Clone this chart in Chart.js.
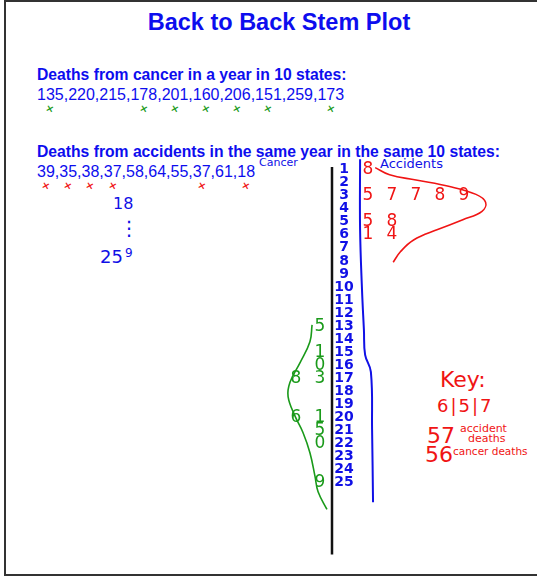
<!DOCTYPE html>
<html>
<head>
<meta charset="utf-8">
<script src="https://cdn.jsdelivr.net/npm/chart.js@4.4.0/dist/chart.umd.min.js"></script>
<style>
    html, body { margin: 0; padding: 0; background: #fff; }
    body { width: 537px; height: 577px; position: relative; overflow: hidden;
           font-family: "Liberation Sans", Arial, sans-serif; }
    #frame { position: absolute; left: 4px; top: 0; width: 600px; height: 576px;
             border: 2px solid #333; box-sizing: border-box; }
    #plot { position: absolute; left: 0; top: 0; width: 537px; height: 577px; }
    .txt { position: absolute; white-space: nowrap; line-height: 1; }
    .head { color: #0d0dee; font-weight: bold; font-size: 15.7px; left: 37px; }
    .vals { color: #0d0dee; font-size: 16px; left: 37px; }
    .vals span { display: inline-block; position: relative; }
    .vals span.ok::after { content: "\00d7"; position: absolute; left: 50%; top: 16px;
                           transform: translateX(-50%) rotate(15deg); font: bold 10px "DejaVu Sans"; }
    #cancerVals span.ok::after { color: #1a9a1a; }
    #accVals span.ok::after { color: #f01414; }
    .hand { font-family: "DejaVu Sans", sans-serif; }
    .blue { color: #1010e6; }
    .red { color: #f01414; }
</style>
</head>
<body>
<div id="frame"></div>
<div class="txt" style="left:0; width:558px; text-align:center; top:10.5px; font-size:23.5px; font-weight:bold; color:#0d0dee;">Back to Back Stem Plot</div>
<div class="txt head" style="top:67px;">Deaths from cancer in a year in 10 states:</div>
<div class="txt vals" id="cancerVals" style="top:86.5px;"></div>
<div class="txt head" style="top:144px;">Deaths from accidents in the same year in the same 10 states:</div>
<div class="txt vals" id="accVals" style="top:163.5px;"></div>

<div class="txt hand blue" style="left:259px; top:157px; font-size:11px;">Cancer</div>
<div class="txt hand blue" style="left:380px; top:157px; font-size:13px;">Accidents</div>

<div class="txt hand blue" style="left:113px; top:196px; font-size:16px;">18</div>
<div class="txt hand blue" style="left:119px; top:218px; font-size:20px;">&#8942;</div>
<div class="txt hand blue" style="left:100px; top:248px; font-size:18px;">25</div>
<div class="txt hand blue" style="left:125px; top:247px; font-size:12px;">9</div>

<div class="txt hand red" style="left:440px; top:369px; font-size:22px;">Key:</div>
<div class="txt hand red" style="left:437px; top:397px; font-size:18px; letter-spacing:2px;">6|5|7</div>
<div class="txt hand red" style="left:427px; top:425px; font-size:22px;">57</div>
<div class="txt hand red" style="left:460px; top:423px; font-size:11px;">accident</div>
<div class="txt hand red" style="left:468px; top:433px; font-size:11px;">deaths</div>
<div class="txt hand red" style="left:425px; top:444px; font-size:22px;">56</div>
<div class="txt hand red" style="left:453px; top:446px; font-size:10.5px;">cancer deaths</div>

<div id="plot"><canvas id="chart"></canvas></div>

<script>
// ─── Data ───
const cancerDeaths   = [135, 220, 215, 178, 201, 160, 206, 151, 259, 173];
const accidentDeaths = [39, 35, 38, 37, 58, 64, 55, 37, 61, 18];
// values already ticked off on the board (1 = ticked)
const cancerTicked   = [1, 0, 0, 1, 1, 1, 1, 1, 0, 1];
const accidentTicked = [1, 1, 1, 1, 0, 0, 0, 1, 0, 1];
const stems = [1, 2, 3, 4, 5, 6, 7, 8, 9, 10, 11, 12, 13, 14, 15, 16, 17, 18, 19, 20, 21, 22, 23, 24, 25];

// hand-drawn strokes, in (leaf slot, stem) units
const blackLine = [{ x: -0.5, y: 0.8 }, { x: -0.5, y: 30.5 }];
const blueLine = [
    { x: 0.67, y: 0.2 }, { x: 0.67, y: 5.6 }, { x: 0.75, y: 10.2 }, { x: 0.83, y: 13.3 },
    { x: 0.88, y: 15.2 }, { x: 1.12, y: 16.5 }, { x: 1.17, y: 20.9 }, { x: 1.21, y: 26.5 },
];
const accidentCurve = [
    { x: 1.3, y: 0.85 }, { x: 1.9, y: 1.4 }, { x: 3.0, y: 1.8 }, { x: 4.4, y: 2.3 },
    { x: 5.5, y: 2.9 }, { x: 5.9, y: 3.5 }, { x: 5.75, y: 4.2 }, { x: 4.95, y: 4.85 },
    { x: 3.9, y: 5.6 }, { x: 2.9, y: 6.4 }, { x: 2.35, y: 7.3 }, { x: 2.05, y: 8.1 },
];
const cancerCurve = [
    { x: -1.33, y: 12.9 }, { x: -1.42, y: 14.2 }, { x: -1.83, y: 15.8 }, { x: -2.25, y: 17.3 },
    { x: -2.33, y: 18.4 }, { x: -2.04, y: 19.9 }, { x: -1.71, y: 21.15 }, { x: -1.42, y: 22.7 },
    { x: -1.21, y: 24.5 }, { x: -1.08, y: 25.7 }, { x: -0.71, y: 27.05 },
];

// ─── Value lines with tick marks ───
function fillValues(el, values, ticked) {
    el.innerHTML = values
        .map((v, i) => `<span class="${ticked[i] ? 'ok' : ''}">${v}</span>`)
        .join(',');
}
fillValues(document.getElementById('cancerVals'), cancerDeaths, cancerTicked);
fillValues(document.getElementById('accVals'), accidentDeaths, accidentTicked);

// ─── Leaves: sort, split into stem|leaf, stack outwards from the stem ───
function buildLeaves(values, dir) {
    const used = {};
    const points = [];
    const labels = [];
    [...values].sort((a, b) => a - b).forEach((v) => {
        const stem = Math.floor(v / 10);
        used[stem] = (used[stem] || 0) + 1;
        points.push({ x: dir * used[stem], y: stem });
        labels.push(String(v % 10));
    });
    return { points, labels };
}
const cancerLeaves = buildLeaves(cancerDeaths, -1);
const accidentLeaves = buildLeaves(accidentDeaths, 1);

// draws ds.labels at each point of a dataset
const textPoints = {
    id: 'textPoints',
    afterDatasetsDraw(chart) {
        const ctx = chart.ctx;
        chart.data.datasets.forEach((ds, i) => {
            if (!ds.labels) return;
            const meta = chart.getDatasetMeta(i);
            ctx.save();
            ctx.font = ds.labelFont;
            ctx.fillStyle = ds.labelColor;
            ctx.textAlign = 'center';
            ctx.textBaseline = 'middle';
            meta.data.forEach((pt, j) => ctx.fillText(ds.labels[j], pt.x, pt.y));
            ctx.restore();
        });
    },
};

const stroke = (data, color, width) => ({
    data, showLine: true, borderColor: color, borderWidth: width,
    pointRadius: 0, tension: 0.4, clip: false,
});

new Chart(document.getElementById('chart'), {
    type: 'scatter',
    data: {
        datasets: [
            stroke(blackLine, '#111', 2.5),
            stroke(blueLine, '#1010e6', 2),
            stroke(accidentCurve, '#f01414', 1.6),
            stroke(cancerCurve, '#1a9a1a', 1.6),
            {
                data: stems.map((s) => ({ x: 0, y: s })),
                labels: stems.map(String),
                labelFont: 'bold 14px "DejaVu Sans"',
                labelColor: '#1010e6',
                pointRadius: 0,
            },
            {
                data: accidentLeaves.points,
                labels: accidentLeaves.labels,
                labelFont: '17px "DejaVu Sans"',
                labelColor: '#f01414',
                pointRadius: 0,
            },
            {
                data: cancerLeaves.points,
                labels: cancerLeaves.labels,
                labelFont: '17px "DejaVu Sans"',
                labelColor: '#1a9a1a',
                pointRadius: 0,
            },
        ],
    },
    options: {
        responsive: true,
        maintainAspectRatio: false,
        animation: false,
        events: [],
        layout: { autoPadding: false, padding: { left: 248, right: 1, top: 150, bottom: 16 } },
        plugins: { legend: { display: false }, tooltip: { enabled: false } },
        scales: {
            x: { type: 'linear', min: -4, max: 8, display: false },
            y: { type: 'linear', min: -0.5, max: 31, reverse: true, display: false },
        },
    },
    plugins: [textPoints],
});
</script>
</body>
</html>
